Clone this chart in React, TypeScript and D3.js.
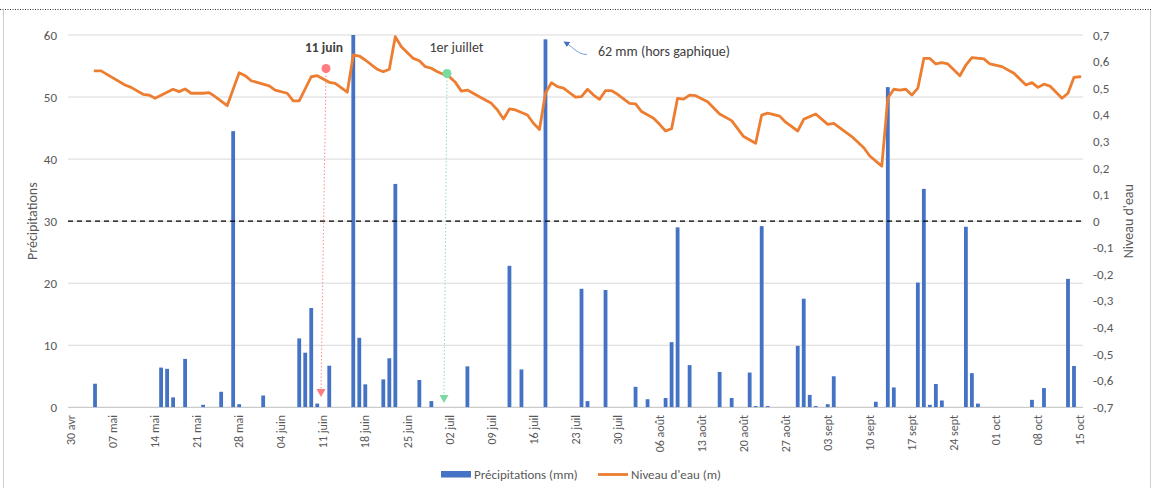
import React from "react";
import * as d3 from "d3";

// Tick labels on the date axis (every 7 days from 30 avr, day index 0..168)
const dateTicks = ["30 avr", "07 mai", "14 mai", "21 mai", "28 mai", "04 juin", "11 juin", "18 juin", "25 juin", "02 juil", "09 juil", "16 juil", "23 juil", "30 juil", "06 août", "13 août", "20 août", "27 août", "03 sept", "10 sept", "17 sept", "24 sept", "01 oct", "08 oct", "15 oct"];
const leftTicks = [0, 10, 20, 30, 40, 50, 60];
const rightTicks = [-0.7, -0.6, -0.5, -0.4, -0.3, -0.2, -0.1, 0, 0.1, 0.2, 0.3, 0.4, 0.5, 0.6, 0.7];

// Precipitation (mm): day index from 30 avr, value
const precipDays = [4, 15, 16, 17, 19, 22, 25, 27, 28, 32, 38, 39, 40, 41, 43, 47, 48, 49, 52, 53, 54, 58, 60, 66, 73, 75, 79, 85, 86, 89, 94, 96, 99, 100, 101, 103, 108, 110, 113, 114, 115, 116, 121, 122, 123, 124, 126, 127, 134, 136, 137, 141, 142, 143, 144, 145, 149, 150, 151, 160, 162, 166, 167];
const precipValues = [3.8, 6.4, 6.2, 1.6, 7.8, 0.4, 2.5, 44.5, 0.5, 1.9, 11.1, 8.8, 16.0, 0.6, 6.7, 62, 11.2, 3.7, 4.5, 7.9, 36.0, 4.4, 1.0, 6.6, 22.8, 6.1, 59.3, 19.1, 1.0, 18.9, 3.3, 1.3, 1.5, 10.5, 29.0, 6.8, 5.7, 1.5, 5.6, 0.2, 29.2, 0.2, 9.9, 17.5, 2.0, 0.2, 0.5, 5.0, 0.9, 51.6, 3.2, 20.1, 35.2, 0.4, 3.75, 1.1, 29.1, 5.5, 0.6, 1.2, 3.1, 20.7, 6.65];

// Water level (m): day index, value
const levelDays = [4, 5, 9, 10, 12, 13, 14, 17, 18, 19, 20, 22, 23, 24, 26, 28, 29, 30, 33, 34, 36, 37, 38, 40, 41, 43, 44, 46, 47, 48, 49, 51, 52, 53, 54, 55, 57, 58, 59, 60, 61, 63, 64, 65, 66, 68, 70, 71, 72, 73, 74, 76, 77, 78, 79, 80, 81, 82, 84, 85, 86, 87, 88, 89, 90, 91, 93, 94, 95, 97, 98, 99, 100, 101, 102, 103, 104, 106, 108, 110, 112, 114, 115, 116, 118, 119, 121, 122, 124, 126, 127, 130, 132, 133, 135, 136, 137, 138, 139, 140, 141, 142, 143, 144, 145, 146, 148, 149, 150, 152, 153, 155, 157, 159, 160, 161, 162, 163, 165, 166, 167, 168];
const levelValues = [0.565, 0.565, 0.512, 0.503, 0.477, 0.474, 0.462, 0.496, 0.487, 0.497, 0.481, 0.481, 0.483, 0.468, 0.434, 0.558, 0.547, 0.528, 0.509, 0.493, 0.481, 0.452, 0.452, 0.543, 0.547, 0.522, 0.518, 0.485, 0.625, 0.621, 0.606, 0.571, 0.562, 0.571, 0.694, 0.656, 0.612, 0.603, 0.581, 0.575, 0.562, 0.543, 0.522, 0.489, 0.493, 0.468, 0.443, 0.418, 0.384, 0.422, 0.418, 0.399, 0.368, 0.345, 0.481, 0.521, 0.506, 0.5, 0.466, 0.468, 0.496, 0.474, 0.458, 0.491, 0.491, 0.477, 0.443, 0.441, 0.412, 0.387, 0.364, 0.339, 0.348, 0.462, 0.459, 0.474, 0.472, 0.449, 0.403, 0.378, 0.318, 0.293, 0.399, 0.406, 0.395, 0.372, 0.339, 0.383, 0.403, 0.364, 0.368, 0.318, 0.276, 0.245, 0.207, 0.462, 0.496, 0.493, 0.496, 0.474, 0.5, 0.612, 0.612, 0.591, 0.596, 0.591, 0.547, 0.587, 0.615, 0.61, 0.591, 0.581, 0.556, 0.512, 0.521, 0.503, 0.515, 0.508, 0.462, 0.481, 0.541, 0.543];

const FONT = "Carlito, Calibri, 'Liberation Sans', Arial, sans-serif";
const GREY = "#595959";
const BLUE = "#4472C4";
const ORANGE = "#ED7D31";

export default function App() {
  const W = 1156, H = 491;
  const plotL = 68, plotR = 1083, plotT = 35, plotB = 407.3;
  const x = d3.scaleLinear().domain([0, 168]).range([71, 1080]);
  const yL = d3.scaleLinear().domain([0, 60]).range([plotB, plotT]);
  const yR = d3.scaleLinear().domain([-0.7, 0.7]).range([plotB, plotT]);
  const barW = 3.8;
  const line = d3.line<number>()
    .x((d, i) => x(levelDays[i]))
    .y((d) => yR(d));
  const fmtR = (v: number) => (v === 0 ? "0" : v.toFixed(1).replace(".", ","));

  return (
    <svg width={W} height={H} style={{ position: "absolute", left: 0, top: 0, fontFamily: FONT }}>
      <defs>
        <clipPath id="plotclip">
          <rect x={plotL} y={plotT} width={plotR - plotL} height={plotB - plotT} />
        </clipPath>
        <marker id="arrBlue" viewBox="0 0 10 10" refX="5" refY="5" markerWidth="6" markerHeight="6" orient="auto-start-reverse">
          <path d="M0,0 L10,5 L0,10 z" fill={BLUE} />
        </marker>
      </defs>
      <rect x={0} y={0} width={W} height={H} fill="#fff" />
      {/* outer frame */}
      <line x1={0} x2={1151} y1={9.5} y2={9.5} stroke="#333" strokeDasharray="1,1.5" />
      <line x1={3.5} x2={3.5} y1={10} y2={488} stroke="#d0d0d0" />
      <line x1={1150.5} x2={1150.5} y1={10} y2={488} stroke="#d0d0d0" />

      {/* gridlines */}
      {leftTicks.map((t) => (
        <line key={"g" + t} x1={plotL} x2={plotR} y1={yL(t)} y2={yL(t)} stroke={t === 0 ? "#bfbfbf" : "#d9d9d9"} strokeWidth={1} />
      ))}

      {/* bars */}
      <g clipPath="url(#plotclip)">
        {precipDays.map((d, i) => (
          <rect key={"b" + i} x={x(d) - barW / 2} y={yL(precipValues[i])} width={barW} height={yL(0) - yL(precipValues[i])} fill={BLUE} />
        ))}
      </g>

      {/* dashed zero line */}
      <line x1={plotL} x2={plotR} y1={yR(0)} y2={yR(0)} stroke="#000" strokeWidth={1.3} strokeDasharray="5,4" />

      {/* annotation guides */}
      <line x1={326} y1={72} x2={321} y2={390} stroke="#FF8A8A" strokeWidth={1} strokeDasharray="1.5,2" />
      <path d="M316.5,389 L325.5,389 L321,397 z" fill="#FF7C80" />
      <line x1={447} y1={77} x2={444} y2={395} stroke="#8EE0B0" strokeWidth={1} strokeDasharray="1.5,2" />
      <path d="M439.5,395 L448.5,395 L444,403 z" fill="#7DD9A2" />

      {/* water level line */}
      <path d={line(levelValues) || ""} fill="none" stroke={ORANGE} strokeWidth={2.8} strokeLinejoin="round" strokeLinecap="round" />

      {/* dots */}
      <circle cx={326} cy={68.5} r={4.5} fill="#FF7C80" />
      <circle cx={447} cy={73.5} r={4.5} fill="#7DD9A2" />

      {/* annotation texts */}
      <text x={324} y={52} textAnchor="middle" fontSize={13.5} fontWeight="bold" fill="#404040">11 juin</text>
      <text x={456.5} y={52} textAnchor="middle" fontSize={14} fill="#404040">1er juillet</text>
      <text x={598} y={56} fontSize={14} fill="#404040">62 mm (hors gaphique)</text>
      <path d="M587,54.5 C578,54.5 574,48 566,43" fill="none" stroke="#7C9CD8" strokeWidth={1} markerEnd="url(#arrBlue)" />

      {/* left axis ticks */}
      {leftTicks.map((t) => (
        <text key={"l" + t} x={57} y={yL(t)} dy="0.35em" textAnchor="end" fontSize={13} fill={GREY}>{t}</text>
      ))}
      {/* right axis ticks */}
      {rightTicks.map((t) => (
        <text key={"r" + t} x={1093} y={yR(t)} dy="0.35em" textAnchor="start" fontSize={13} fill={GREY}>{fmtR(t)}</text>
      ))}
      {/* x axis ticks */}
      {dateTicks.map((t, i) => (
        <text key={"x" + i} transform={`translate(${x(i * 7)},${415}) rotate(-90)`} dy="0.35em" textAnchor="end" fontSize={12} fill={GREY}>{t}</text>
      ))}

      {/* axis titles */}
      <text transform={`translate(32,${yL(30)}) rotate(-90)`} dy="0.35em" textAnchor="middle" fontSize={14} fill={GREY}>Précipitations</text>
      <text transform={`translate(1128,${yR(0)}) rotate(-90)`} dy="0.35em" textAnchor="middle" fontSize={14} fill={GREY}>Niveau d'eau</text>

      {/* legend */}
      <rect x={441} y={471} width={30} height={6.5} fill={BLUE} />
      <text x={474} y={474.5} dy="0.35em" fontSize={13} fill={GREY}>Précipitations (mm)</text>
      <line x1={598} x2={628} y1={474.5} y2={474.5} stroke={ORANGE} strokeWidth={2.8} />
      <text x={631} y={474.5} dy="0.35em" fontSize={13} fill={GREY}>Niveau d'eau (m)</text>
    </svg>
  );
}
